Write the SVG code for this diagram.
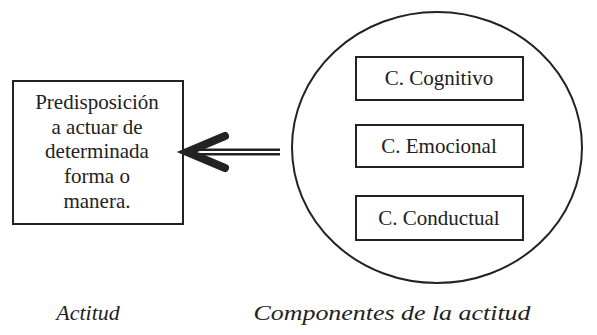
<svg xmlns="http://www.w3.org/2000/svg" width="597" height="335" viewBox="0 0 597 335">
<style>
.box{fill:#fff;stroke:#222;stroke-width:2}
.t{font-family:"Liberation Serif","DejaVu Serif",serif;font-size:21px;fill:#222;text-anchor:middle}
.cap{font-family:"Liberation Serif","DejaVu Serif",serif;font-size:22px;font-style:italic;fill:#222;text-anchor:middle}
</style>
<rect width="597" height="335" fill="#fff"/>
<g id="actitud">
<rect class="box" x="13" y="81" width="170" height="143"/>
<text class="t" x="97" y="109">Predisposición</text>
<text class="t" x="97" y="134">a actuar de</text>
<text class="t" x="97" y="158">determinada</text>
<text class="t" x="97" y="183">forma o</text>
<text class="t" x="97" y="208">manera.</text>
</g>
<g id="componentes">
<ellipse cx="437" cy="147.5" rx="145" ry="135.5" fill="none" stroke="#222" stroke-width="2"/>
</g>
<g id="cognitivo">
<rect class="box" x="356" y="57" width="167" height="43"/>
<text class="t" x="439" y="85">C. Cognitivo</text>
</g>
<g id="emocional">
<rect class="box" x="356" y="125" width="167" height="42"/>
<text class="t" x="439" y="153">C. Emocional</text>
</g>
<g id="conductual">
<rect class="box" x="356" y="196" width="167" height="44"/>
<text class="t" x="439" y="225">C. Conductual</text>
</g>
<g id="connectors">
<line x1="195" y1="152" x2="280" y2="152" stroke="#222" stroke-width="7"/>
<line x1="195" y1="152" x2="280" y2="152" stroke="#fff" stroke-width="2"/>
<polyline points="225,136 187,152 225,168" fill="none" stroke="#222" stroke-width="8" stroke-linecap="round" stroke-linejoin="miter"/>
</g>
<text class="cap" x="88" y="320">Actitud</text>
<text class="cap" x="392" y="320" textLength="277" lengthAdjust="spacingAndGlyphs">Componentes de la actitud</text>
</svg>
